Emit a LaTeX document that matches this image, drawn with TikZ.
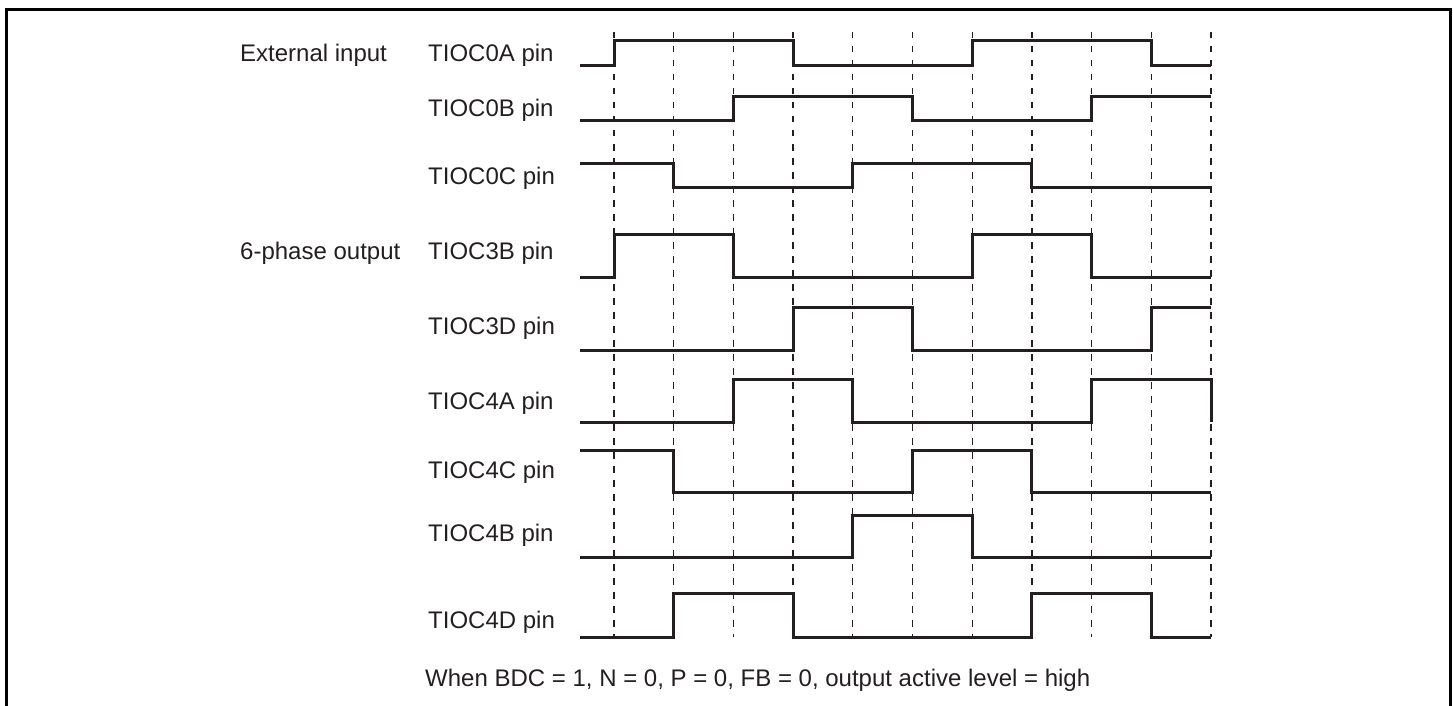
\documentclass[tikz,border=0pt]{standalone}
\usepackage{fontspec}
\setmainfont{Liberation Sans}
\definecolor{ink}{RGB}{35,31,32}
\begin{document}
\begin{tikzpicture}[x=1pt,y=-1pt,
  lbl/.style={anchor=base west,inner sep=0pt,text=ink,font=\fontsize{24}{28}\selectfont},
  sig/.style={draw=ink,line width=3pt,line join=miter},
  grid/.style={draw=ink,line width=1.3pt,dash pattern=on 6.5pt off 7.5pt},
  frame/.style={draw=black,line width=3pt}]
\useasboundingbox (0,0) rectangle (1453,706);
\def\T#1{614+59.7*#1}
% frame (bottom edge outside the picture)
\draw[frame] (6,706) -- (6,9.5) -- (1450,9.5) -- (1450,706);
% dashed timing lines
\foreach \k in {0,...,10}{
  \draw[grid] ({\T{\k}},32) -- ({\T{\k}},637);
}
% labels
\node[lbl] (gin)  at (240,62)  {External input};
\node[lbl] (gout) at (240,259) {6-phase output};
\node[lbl] (l0a) at (428,62)  {TIOC0A pin};
\node[lbl] (l0b) at (428,117) {TIOC0B pin};
\node[lbl] (l0c) at (428,184) {TIOC0C pin};
\node[lbl] (l3b) at (428,259) {TIOC3B pin};
\node[lbl] (l3d) at (428,334) {TIOC3D pin};
\node[lbl] (l4a) at (428,409) {TIOC4A pin};
\node[lbl] (l4c) at (428,478) {TIOC4C pin};
\node[lbl] (l4b) at (428,541) {TIOC4B pin};
\node[lbl] (l4d) at (428,628) {TIOC4D pin};
\node[lbl] (note) at (425,686) {When BDC = 1, N = 0, P = 0, FB = 0, output active level = high};
% TIOC0A
\draw[sig] (580,66) -- ({\T{0}},66) -- ({\T{0}},41) -- ({\T{3}},41) -- ({\T{3}},66)
  -- ({\T{6}},66) -- ({\T{6}},41) -- ({\T{9}},41) -- ({\T{9}},66) -- ({\T{10}},66);
% TIOC0B
\draw[sig] (580,121) -- ({\T{2}},121) -- ({\T{2}},97) -- ({\T{5}},97) -- ({\T{5}},121)
  -- ({\T{8}},121) -- ({\T{8}},97) -- ({\T{10}},97);
% TIOC0C
\draw[sig] (580,163) -- ({\T{1}},163) -- ({\T{1}},187) -- ({\T{4}},187) -- ({\T{4}},163)
  -- ({\T{7}},163) -- ({\T{7}},187) -- ({\T{10}},187);
% TIOC3B
\draw[sig] (580,277) -- ({\T{0}},277) -- ({\T{0}},234) -- ({\T{2}},234) -- ({\T{2}},277)
  -- ({\T{6}},277) -- ({\T{6}},234) -- ({\T{8}},234) -- ({\T{8}},277) -- ({\T{10}},277);
% TIOC3D
\draw[sig] (580,350) -- ({\T{3}},350) -- ({\T{3}},307) -- ({\T{5}},307) -- ({\T{5}},350)
  -- ({\T{9}},350) -- ({\T{9}},307) -- ({\T{10}},307);
% TIOC4A
\draw[sig] (580,422) -- ({\T{2}},422) -- ({\T{2}},379) -- ({\T{4}},379) -- ({\T{4}},422)
  -- ({\T{8}},422) -- ({\T{8}},379) -- ({\T{10}},379) -- ({\T{10}},422);
% TIOC4C
\draw[sig] (580,450) -- ({\T{1}},450) -- ({\T{1}},492) -- ({\T{5}},492) -- ({\T{5}},450)
  -- ({\T{7}},450) -- ({\T{7}},492) -- ({\T{10}},492);
% TIOC4B
\draw[sig] (580,557) -- ({\T{4}},557) -- ({\T{4}},515) -- ({\T{6}},515) -- ({\T{6}},557)
  -- ({\T{10}},557);
% TIOC4D
\draw[sig] (580,637) -- ({\T{1}},637) -- ({\T{1}},593) -- ({\T{3}},593) -- ({\T{3}},637)
  -- ({\T{7}},637) -- ({\T{7}},593) -- ({\T{9}},593) -- ({\T{9}},637) -- ({\T{10}},637);
\end{tikzpicture}
\end{document}
